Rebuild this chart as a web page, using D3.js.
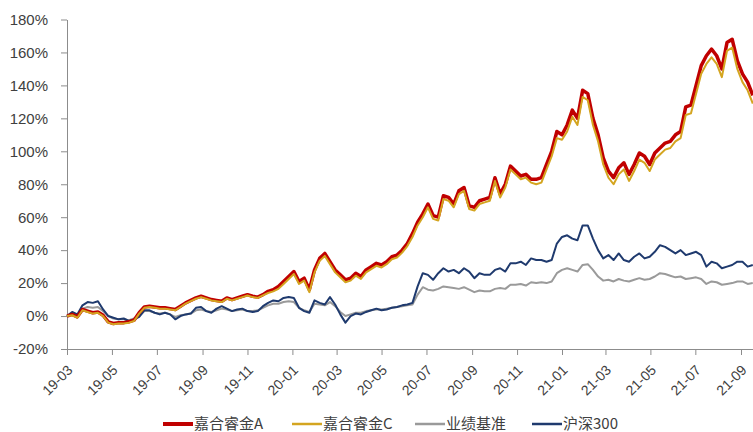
<!DOCTYPE html>
<html lang="zh">
<head>
<meta charset="utf-8"/>
<script src="https://d3js.org/d3.v7.min.js"></script>
<style>
  body { margin: 0; background: #fff; }
  svg { display: block; font-family: "Noto Sans CJK SC", "Noto Sans", sans-serif; }
</style>
</head>
<body>
<div id="chart"></div>
<script>
// weekly observations starting 2019-03-01, cumulative return in %
var startDate = "2019-03-01";

var fundA = [0,1,-0.5,4,3,2,2.5,0.5,-3.5,-4.5,
  -4,-4,-3.5,-2.5,2,5.5,6,5.5,5,5,
  4.5,4,6,8,9.5,11,12,11,10,9.5,
  9,11,10,11,12,13,12,11.5,13,15,
  16,18,21,24,27,21,23,16,28,35,
  38,33,28,25,22,23,26,24,28,30,
  32,31,33,36,37,40,44,50,57,62,
  68,61,60,73,72,68,76,78,67,66,
  70,71,72,84,74,80,91,88,85,86,
  83,83,84,92,100,112,110,116,125,120,
  137,135,120,110,96,88,84,90,93,86,
  92,99,97,92,99,102,105,106,110,112,
  127,128,140,152,158,162,158,150,166,168,
  155,147,142,134];

var fundC = [0,0.5,-1,3.5,2.5,1.5,2,0,-4,-5,
  -4.5,-4.5,-4,-3,1.5,5,5.5,5,4.5,4.5,
  4,3.5,5.5,7.5,9,10.5,11.5,10.5,9.5,9,
  8.5,10.5,9.5,10.5,11.5,12.5,11.5,11,12.5,14,
  15,16.5,19.5,22.5,25.5,19.5,21.5,14.5,26.5,33.5,
  36.5,31.5,26.5,23.5,20.5,21.5,24.5,22.5,26.5,28.5,
  30.5,29.5,31.5,34.5,35.5,38.5,42.5,48,55,60,
  66,59,58,71,70,66,74,76,65,64,
  68,69,70,82,72,78,89,86,83,84,
  81,80,81,89,97,108,107,112,121,116,
  133,131,116,106,92,84,80,86,89,82,
  88,95,93,88,95,98,101,102,106,108,
  122,123,135,147,153,157,153,145,161,163,
  150,142,137,129];

var benchmark = [0,1.5,0.5,4.5,5.5,5,5.5,3,0,-1.5,
  -2,-2,-2.5,-1.5,0,3,3,2,1.5,2,
  1,-0.5,0.5,1,1.5,3.5,4,3,2.5,3.5,
  4.5,4,3,3.5,4,3,3,3.5,5,6.5,
  7.5,7.5,8.5,9,8.5,5,3.5,2.5,7.5,7,
  6.5,8.5,6,2.5,0,1,2,2,3,3.5,
  4,4,4.5,5,5.5,6,6.5,7,13,17.5,
  16,15.5,16.5,18,17.5,17,16.5,17.5,16,14.5,
  15.5,15,15,16.5,17,16.5,19,19,19.5,18.5,
  20.5,20,20.5,20,21,26,28,29,28,27,
  31,31.5,28,24,21.5,22,21,22.5,21.5,21,
  22,23,22,22.5,24,26,25.5,24.5,23.5,24,
  22.5,23,23.5,22.5,19.5,21,20.5,19,19.5,20,
  21,21,19.5,20];

var hs300 = [0,2.5,1,6.5,8.5,8,9,4,0,-1,
  -2,-1.5,-3,-2,-0.5,3.5,3.5,2,1,2,
  1,-2,0,1,1.5,5,5.5,3,2,4.5,
  6,4.5,3,4,4.5,3,2.5,3,6,8,
  9.5,9,11,11.5,11,5,3,2,9.5,8,
  7,11.5,7,1,-4,0,1.5,1,2.5,3.5,
  4.5,3.5,4,5,5.5,6.5,7,8,18,26,
  25,22,26,29,27,28,26,29,27,23,
  26,25,25,28,29,27,32,32,33,31,
  35,34,34,33,34,44,48,49,47,46,
  55,55,47,40,35,37,34,38,34,33,
  36,38,35,36,39,43,42,40,38,40,
  37,38,39,37,30,33,32,29,30,31,
  33,33,30,31];

var yTicks = [-20,0,20,40,60,80,100,120,140,160,180];
var xTickLabels = ["19-03","19-05","19-07","19-09","19-11","20-01","20-03","20-05",
  "20-07","20-09","20-11","21-01","21-03","21-05","21-07","21-09"];

var seriesNames = ["嘉合睿金A","嘉合睿金C","业绩基准","沪深300"];
var seriesColors = ["#c00000","#d4a520","#9a9a9a","#1f3a6e"];
var seriesWidths = [3.5,2,2,2];

var parseTick = d3.timeParse("%y-%m");
var start = d3.timeParse("%Y-%m-%d")(startDate);
var dates = fundA.map(function (d, i) { return d3.timeDay.offset(start, 7 * i); });

var width = 753, height = 432;
var svg = d3.select("#chart").append("svg")
  .attr("width", width).attr("height", height);

var x = d3.scaleTime()
  .domain([parseTick(xTickLabels[0]), parseTick(xTickLabels[xTickLabels.length - 1])])
  .range([67, 741]);
var y = d3.scaleLinear().domain([-20, 180]).range([349, 19.5]);

// y axis
var yAxis = svg.append("g").attr("transform", "translate(67,0)")
  .call(d3.axisLeft(y).tickValues(yTicks).tickSize(6).tickSizeOuter(0)
    .tickFormat(function (d) { return d + "%"; }));
yAxis.select(".domain").attr("stroke", "#8c8c8c");
yAxis.selectAll(".tick line").attr("stroke", "#8c8c8c");
yAxis.selectAll(".tick text").attr("x", -19).attr("fill", "#404040")
  .style("font-size", "15px").style("font-family", "inherit");

// x axis at the -20% level
var xAxis = svg.append("g").attr("transform", "translate(0," + y(-20) + ")")
  .call(d3.axisBottom(x).tickValues(xTickLabels.map(parseTick)).tickSize(6).tickSizeOuter(0)
    .tickFormat(d3.timeFormat("%y-%m")));
xAxis.select(".domain").attr("d", "M67,0.5H753").attr("stroke", "#8c8c8c");
xAxis.selectAll(".tick line").attr("stroke", "#8c8c8c");
xAxis.selectAll(".tick text")
  .attr("fill", "#404040")
  .style("font-size", "14px").style("font-family", "inherit")
  .attr("text-anchor", "end")
  .attr("dy", null)
  .attr("y", 0)
  .attr("transform", "translate(6,22) rotate(-45)");

// lines, drawn benchmark first so the funds sit on top
var series = [fundA, fundC, benchmark, hs300];
var order = [2, 3, 0, 1];
var line = d3.line()
  .x(function (d, i) { return x(dates[i]); })
  .y(function (d) { return y(d); });

order.forEach(function (s) {
  svg.append("path")
    .datum(series[s])
    .attr("fill", "none")
    .attr("stroke", seriesColors[s])
    .attr("stroke-width", seriesWidths[s])
    .attr("stroke-linejoin", "round")
    .attr("d", line);
});

// legend
var legendX = [163, 292, 415, 532];
var legend = svg.append("g").attr("transform", "translate(0,424)");
seriesNames.forEach(function (name, i) {
  legend.append("line")
    .attr("x1", legendX[i]).attr("x2", legendX[i] + 30)
    .attr("y1", 0).attr("y2", 0)
    .attr("stroke", seriesColors[i]).attr("stroke-width", i === 0 ? 4 : 2.5);
  legend.append("text")
    .attr("x", legendX[i] + 31).attr("y", 5)
    .attr("fill", "#404040").style("font-size", "15px")
    .text(name);
});
</script>
</body>
</html>
